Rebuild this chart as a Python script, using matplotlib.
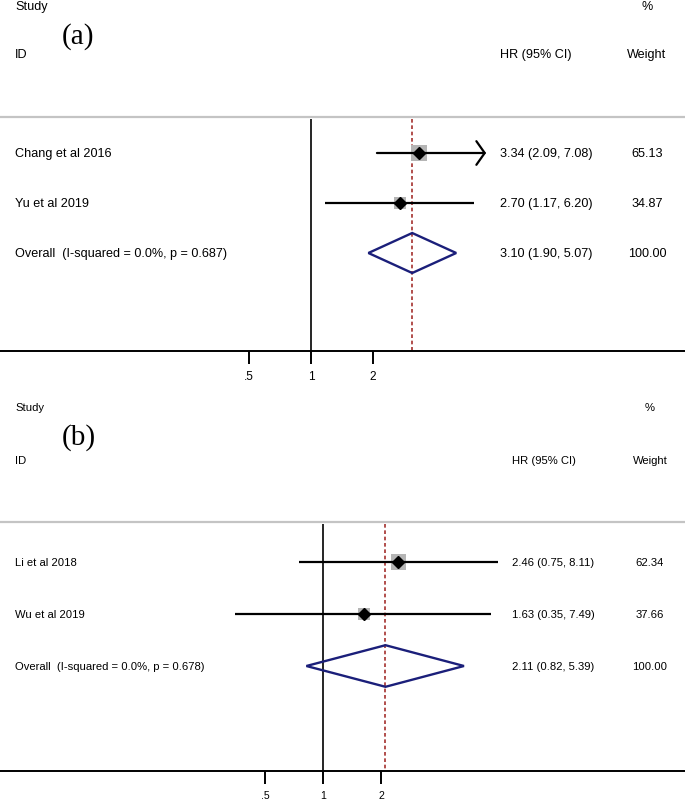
import numpy as np
import matplotlib.pyplot as plt
from matplotlib.patches import Polygon
from matplotlib.ticker import NullLocator
from matplotlib.transforms import blended_transform_factory

plt.rcParams['font.family'] = ['Liberation Sans', 'DejaVu Sans']

# ---- data panel (a)
studies_a = ["Chang et al 2016", "Yu et al 2019"]
hr_a = [3.34, 2.70]
lo_a = [2.09, 1.17]
hi_a = [7.08, 6.20]
weight_a = [65.13, 34.87]
arrow_a = [True, False]
overall_a = [3.10, 1.90, 5.07]  # est, lo, hi
overall_label_a = "Overall  (I-squared = 0.0%, p = 0.687)"

# ---- data panel (b)
studies_b = ["Li et al 2018", "Wu et al 2019"]
hr_b = [2.46, 1.63]
lo_b = [0.75, 0.35]
hi_b = [8.11, 7.49]
weight_b = [62.34, 37.66]
arrow_b = [False, False]
overall_b = [2.11, 0.82, 5.39]
overall_label_b = "Overall  (I-squared = 0.0%, p = 0.678)"

ticks = [0.5, 1, 2]
tick_labels = [".5", "1", "2"]

W, H = 685, 803
fig = plt.figure(figsize=(W / 100, H / 100), dpi=100)


def panel(top_px, axis_px, row0_px, pitch, null_px, upp, fs, hr_x, wt_x, tag, tagy,
          study_y, id_y, gray_px, studies, hr, lo, hi, wt, arrows, overall, olabel):
    ax = fig.add_axes([0, 1 - axis_px / H, 1, (axis_px - top_px) / H])
    ax.set_xscale('log', base=2)
    ax.set_xlim(2 ** (-null_px / upp), 2 ** ((W - null_px) / upp))
    ypx = lambda p: (p - row0_px) / pitch
    ax.set_ylim(ypx(axis_px), ypx(top_px))
    for s in ['top', 'left', 'right']:
        ax.spines[s].set_visible(False)
    ax.spines['bottom'].set_linewidth(1.4)
    ax.set_yticks([])
    ax.set_xticks(ticks)
    ax.set_xticklabels(tick_labels)
    ax.xaxis.set_minor_locator(NullLocator())
    ax.tick_params(axis='x', length=9, width=1.4, pad=5, labelsize=fs - 0.5)

    n = len(studies)
    rows = np.arange(n)
    ybot = ypx(axis_px)
    gy = ypx(gray_px)
    ax.axhline(gy, color='#c4c4c4', lw=1.6)
    ax.vlines(1, gy + 0.04, ybot, color='black', lw=1.2)
    ax.vlines(overall[0], gy + 0.04, ybot, color='#a4302e', lw=1.2,
              linestyles=[(0, (2.2, 1.6))])

    ax.scatter(hr, rows, s=(1.42 * np.sqrt(wt)) ** 2, marker='s', color='#b5b5b5',
               edgecolors='none', zorder=2)
    for i in range(n):
        if arrows[i]:
            ax.annotate('', xy=(hi[i], rows[i]), xytext=(lo[i], rows[i]),
                        arrowprops=dict(arrowstyle='->,head_length=0.6,head_width=0.85',
                                        lw=1.6, color='black', shrinkA=0, shrinkB=0,
                                        mutation_scale=10), zorder=3)
        else:
            ax.hlines(rows[i], lo[i], hi[i], color='black', lw=1.6, zorder=3)
    ax.plot(hr, rows, 'D', color='black', ms=6.5, zorder=4)

    yo = n
    d = Polygon([(overall[1], yo), (overall[0], yo - 0.4), (overall[2], yo),
                 (overall[0], yo + 0.4)], closed=True, fill=False,
                edgecolor='#1b1f7a', lw=1.7, zorder=4)
    ax.add_patch(d)

    tr = blended_transform_factory(ax.transAxes, ax.transData)
    fx = lambda p: p / W
    kw = dict(transform=tr, fontsize=fs, va='center')
    ax.text(fx(15), ypx(study_y), "Study", **kw)
    ax.text(fx(15), ypx(id_y), "ID", **kw)
    ax.text(fx(hr_x), ypx(id_y), "HR (95% CI)", **kw)
    ax.text(fx(wt_x), ypx(study_y), "%", ha='center', **kw)
    ax.text(fx(wt_x), ypx(id_y), "Weight", ha='center', **kw)
    ax.text(fx(62), ypx(tagy), tag, transform=tr, fontsize=21, va='center',
            family='Liberation Serif')
    for i in range(n):
        ax.text(fx(15), rows[i], studies[i], **kw)
        ax.text(fx(hr_x), rows[i], f"{hr[i]:.2f} ({lo[i]:.2f}, {hi[i]:.2f})", **kw)
        ax.text(fx(wt_x), rows[i], f"{wt[i]:.2f}", ha='center', **kw)
    ax.text(fx(15), yo, olabel, **kw)
    ax.text(fx(hr_x), yo, f"{overall[0]:.2f} ({overall[1]:.2f}, {overall[2]:.2f})", **kw)
    ax.text(fx(wt_x), yo, "100.00", ha='center', **kw)
    return ax


panel(0, 352, 154, 50, 311, 62, 9.1, 500, 647, "(a)", 37, 7, 55, 118,
      studies_a, hr_a, lo_a, hi_a, weight_a, arrow_a, overall_a, overall_label_a)
panel(395, 772, 563, 52, 323, 58, 8.1, 512, 650, "(b)", 438, 408, 461, 523,
      studies_b, hr_b, lo_b, hi_b, weight_b, arrow_b, overall_b, overall_label_b)

fig.savefig("out.png", dpi=100)
